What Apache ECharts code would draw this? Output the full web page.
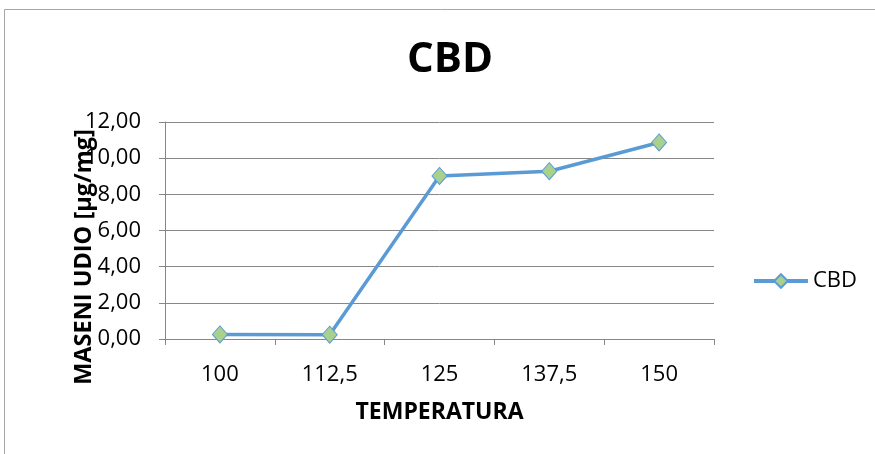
<!DOCTYPE html>
<html><head><meta charset="utf-8">
<script src="https://cdn.jsdelivr.net/npm/echarts@6/dist/echarts.min.js"></script>
<style>html,body{margin:0;padding:0;background:#fff}#c{width:875px;height:454px}</style>
</head><body><div id="c"></div>
<script>
const categories = ['100', '112,5', '125', '137,5', '150'];
const cbdValues = [0.25, 0.24, 9.02, 9.28, 10.87];
const seriesName = 'CBD';
const titleText = 'CBD';
const xName = 'TEMPERATURA';
const yName = 'MASENI UDIO [µg/mg]';

const font = '"Open Sans", Lato, sans-serif';
const chart = echarts.init(document.getElementById('c'));
chart.setOption({
  animation: false,
  backgroundColor: '#fff',
  graphic: [
    {type: 'rect', shape: {x: 4.5, y: 9.5, width: 900, height: 500}, style: {fill: 'none', stroke: '#a6a6a6', lineWidth: 1}, silent: true},
    {type: 'text', x: 84, y: 257, rotation: Math.PI / 2, silent: true,
      style: {text: yName, fontFamily: font, fontSize: 23.5, fontWeight: 'bold', fill: '#000', align: 'center', verticalAlign: 'middle'}}
  ],
  title: {text: titleText, left: 445, top: 34, textAlign: 'center',
    textStyle: {fontFamily: font, fontSize: 42, fontWeight: 'bold', color: '#000'}},
  legend: {right: 13, top: 265, itemWidth: 54, itemHeight: 17, itemGap: 10,
    lineStyle: {width: 4},
    data: [{name: seriesName}],
    textStyle: {fontFamily: font, fontSize: 22, color: '#000'}},
  grid: {left: 165, right: 161, top: 122, bottom: 115},
  xAxis: {type: 'category', data: categories, boundaryGap: true,
    name: xName, nameLocation: 'middle', nameGap: 62,
    nameTextStyle: {fontFamily: font, fontSize: 23, fontWeight: 'bold', color: '#000'},
    axisLine: {lineStyle: {color: '#878787', width: 1}},
    axisTick: {show: true, length: 6, lineStyle: {color: '#878787'}},
    axisLabel: {fontFamily: font, fontSize: 22, color: '#000', margin: 25}},
  yAxis: {type: 'value', min: 0, max: 12, interval: 2,
    axisLine: {show: true, lineStyle: {color: '#878787', width: 1}},
    axisTick: {show: true, length: 6, lineStyle: {color: '#878787'}},
    splitLine: {lineStyle: {color: '#878787', width: 1}},
    axisLabel: {fontFamily: font, fontSize: 22, color: '#000', margin: 24,
      formatter: v => v.toFixed(2).replace('.', ',')}},
  series: [{name: seriesName, type: 'line', data: cbdValues,
    symbol: 'diamond', symbolSize: [15, 17],
    lineStyle: {color: '#5b9bd5', width: 3.5},
    itemStyle: {color: '#a9d18e', borderColor: '#5b9bd5', borderWidth: 1}}]
});
</script></body></html>
